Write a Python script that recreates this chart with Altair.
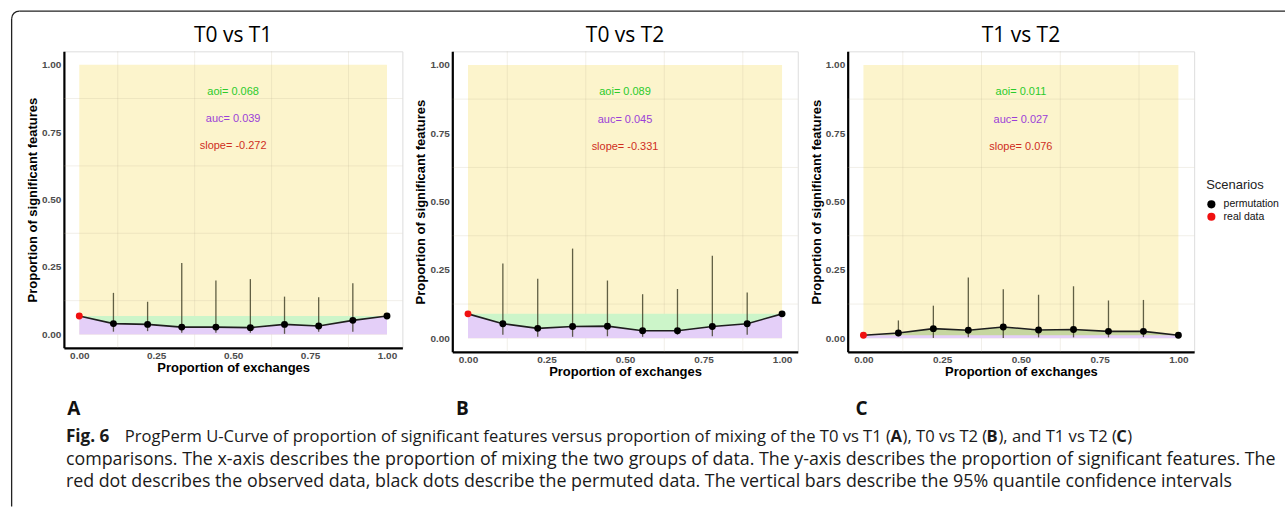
import altair as alt
import pandas as pd

# ---------------- data ----------------
titles = ["T0 vs T1", "T0 vs T2", "T1 vs T2"]
x_vals = [0.0, 0.111, 0.222, 0.333, 0.444, 0.556, 0.667, 0.778, 0.889, 1.0]
scenario = ["real data"] + ["permutation"] * 9

y_A = [0.068, 0.040, 0.037, 0.027, 0.027, 0.025, 0.037, 0.031, 0.052, 0.068]
y_B = [0.089, 0.053, 0.036, 0.043, 0.044, 0.027, 0.027, 0.043, 0.053, 0.089]
y_C = [0.011, 0.019, 0.035, 0.029, 0.041, 0.030, 0.032, 0.025, 0.025, 0.011]

hi_A = [0.154, 0.121, 0.265, 0.200, 0.205, 0.140, 0.138, 0.190]
lo_A = [0.010, 0.012, 0.006, 0.006, 0.006, 0.002, 0.010, 0.010]
hi_B = [0.273, 0.218, 0.328, 0.211, 0.161, 0.180, 0.302, 0.167]
lo_B = [0.013, 0.005, 0.005, 0.007, 0.005, 0.013, 0.007, 0.013]
hi_C = [0.065, 0.119, 0.222, 0.179, 0.159, 0.190, 0.138, 0.140]
lo_C = [0.007, 0.001, 0.003, 0.001, 0.003, 0.003, 0.003, 0.004]

aoi_txt = ["aoi= 0.068", "aoi= 0.089", "aoi= 0.011"]
auc_txt = ["auc= 0.039", "auc= 0.045", "auc= 0.027"]
slope_txt = ["slope= -0.272", "slope= -0.331", "slope= 0.076"]

tick_vals = [0, 0.25, 0.5, 0.75, 1.0]
minor_breaks = [0.125, 0.375, 0.625, 0.875]

panel_letters = ["A", "B", "C"]
caption_l1 = [("Fig. 6", "bold"),
              ("ProgPerm U-Curve of proportion of significant features versus proportion of mixing of the T0 vs T1 (", "normal"),
              ("A", "bold"), ("), T0 vs T2 (", "normal"), ("B", "bold"),
              ("), and T1 vs T2 (", "normal"), ("C", "bold"), (")", "normal")]
caption_l2 = "comparisons. The x-axis describes the proportion of mixing the two groups of data. The y-axis describes the proportion of significant features. The"
caption_l3 = "red dot describes the observed data, black dots describe the permuted data. The vertical bars describe the 95% quantile confidence intervals"

ys = [y_A, y_B, y_C]
his = [hi_A, hi_B, hi_C]
los = [lo_A, lo_B, lo_C]

# ---------------- style ----------------
YELLOW = "#FCF4CC"
PURPLE = "#E4CFF8"
RIBBON = ["#CCF5C9", "#CCF5C9", "#C6D69F"]
AXFONT = "Liberation Sans"
CAPFONT = "Open Sans"
CAPSIZE = 17.85
CAPSIZE1 = 16.6

OX, OY = 63, 50  # absolute position of panel A plot origin


def ax(v):
    return v - OX


def ay(v):
    return v - OY


xscale = alt.Scale(domain=[-0.05, 1.05], nice=False, zero=False)
yscale = alt.Scale(domain=[-0.05, 1.05], nice=False, zero=False)
xaxis = alt.Axis(values=tick_vals, format=".2f", title="Proportion of exchanges", grid=False,
                 ticks=False, domainColor="black", domainWidth=2.2, labelFont=AXFONT,
                 labelFontWeight="bold", labelFontSize=10, labelColor="#4D4D4D", labelPadding=3,
                 labelFlush=False, titleFont=AXFONT, titleFontSize=13, titleFontWeight="bold",
                 titleColor="black", titlePadding=1)
yaxis = alt.Axis(values=tick_vals, format=".2f", title="Proportion of significant features",
                 grid=False, ticks=False, domainColor="black", domainWidth=2.2, labelFont=AXFONT,
                 labelFontWeight="bold", labelFontSize=10, labelColor="#4D4D4D", labelPadding=3,
                 labelFlush=False, titleFont=AXFONT, titleFontSize=13, titleFontWeight="bold",
                 titleColor="black", titlePadding=2)


def X(f):
    return alt.X(f, type="quantitative", scale=xscale, axis=xaxis)


def Y(f):
    return alt.Y(f, type="quantitative", scale=yscale, axis=yaxis)


legend = alt.Legend(title="Scenarios", orient="none", legendX=ax(1207), legendY=ay(178),
                    titleFont=AXFONT, titleFontSize=13, titleFontWeight="normal",
                    titleColor="#222", titlePadding=7, labelFont=AXFONT, labelFontSize=10.5,
                    labelColor="#111", labelFontWeight="normal", symbolType="circle",
                    symbolSize=66, symbolStrokeWidth=0, rowPadding=1.5, labelOffset=7)
color_enc = alt.Color("Scenarios:N",
                      scale=alt.Scale(domain=["permutation", "real data"], range=["#000000", "#F01010"]),
                      legend=legend)

one = pd.DataFrame({"k": [0]})


def txt(s, x, y, size, weight="normal", font=CAPFONT, align="left", color="#1a1a1a"):
    return alt.Chart(pd.DataFrame({"t": [s]})).mark_text(
        font=font, fontSize=size, fontWeight=weight, align=align, baseline="middle", color=color
    ).encode(x=alt.value(x), y=alt.value(y), text="t:N")


def panel(i, w, h, extra=()):
    pts = pd.DataFrame({"x": x_vals, "y": ys[i], "Scenarios": scenario})
    err = pd.DataFrame({"x": x_vals[1:9], "lo": los[i], "hi": his[i]})
    rect = pd.DataFrame({"x0": [0.0], "x1": [1.0], "y0": [0.0], "y1": [1.0]})
    grid = pd.DataFrame({"b": minor_breaks})
    real = ys[i][0]

    bg = alt.Chart(rect).mark_rect(color=YELLOW).encode(x=X("x0"), x2="x1", y=Y("y0"), y2="y1")
    gx = alt.Chart(grid).mark_rule(color="#B8B090", opacity=0.25, strokeWidth=0.8).encode(x=X("b"))
    gy = alt.Chart(grid).mark_rule(color="#B8B090", opacity=0.25, strokeWidth=0.8).encode(y=Y("b"))
    under = alt.Chart(pts).mark_area(color=PURPLE, opacity=1).encode(x=X("x"), y=Y("y"), y2=alt.datum(0))
    ribbon = alt.Chart(pts).mark_area(color=RIBBON[i], opacity=1).encode(x=X("x"), y=Y("y"), y2=alt.datum(real))
    bars = alt.Chart(err).mark_rule(color="#3a3a22", opacity=0.8, strokeWidth=1.3).encode(
        x=X("x"), y=Y("lo"), y2="hi")
    line = alt.Chart(pts).mark_line(color="#1e1e1e", strokeWidth=1.6).encode(x=X("x"), y=Y("y"))
    dots = alt.Chart(pts).mark_circle(size=48, opacity=1).encode(x=X("x"), y=Y("y"), color=color_enc)
    anns = []
    for s, yy, c in [(aoi_txt[i], 0.9, "#2BCB2B"), (auc_txt[i], 0.8, "#9B3FD8"), (slope_txt[i], 0.7, "#CF2E1E")]:
        anns.append(alt.Chart(pd.DataFrame({"t": [s]})).mark_text(
            font=AXFONT, fontSize=11, color=c, baseline="middle", align="center"
        ).encode(x=alt.datum(0.5), y=alt.datum(yy), text="t:N"))
    ttl = alt.Chart(pd.DataFrame({"t": [titles[i]]})).mark_text(
        font="Open Sans", fontSize=21, color="black", baseline="middle", align="center"
    ).encode(x=alt.datum(0.5), y=alt.value(-15), text="t:N")

    layers = [bg, gx, gy, under, ribbon, bars, line, dots] + anns + [ttl] + list(extra)
    return alt.layer(*layers).properties(width=w, height=h)


# decorations (frame, panel letters, caption) placed in absolute page pixels
frame = [
    alt.Chart(one).mark_rule(color="#222", strokeWidth=1.3).encode(
        x=alt.value(ax(10.65)), y=alt.value(ay(17.4)), y2=alt.value(ay(506))),
    alt.Chart(one).mark_rule(color="#222", strokeWidth=1.3).encode(
        x=alt.value(ax(18.4)), x2=alt.value(ax(1286)), y=alt.value(ay(9.65))),
    alt.Chart(one).mark_arc(color="#222", theta=4.7124, theta2=6.2832, radius=8.4, radius2=7.1).encode(
        x=alt.value(ax(18.4)), y=alt.value(ay(17.4))),
]
letters = [txt(l, ax(px), ay(408), 19, weight="bold", align="center", color="#111")
           for l, px in zip(panel_letters, [73, 462, 862])]
l1_pos = [65, 124, 891, 903, 987, 999, 1117, 1128]
cap = [txt(s, ax(px), ay(436), CAPSIZE1 if k else 17.2, weight=wt)
       for k, ((s, wt), px) in enumerate(zip(caption_l1, l1_pos))]
cap.append(txt(caption_l2, ax(65), ay(459), CAPSIZE))
cap.append(txt(caption_l3, ax(65), ay(481), CAPSIZE))

pA = panel(0, 339, 297, extra=frame + letters + cap)
pB = panel(1, 346, 301)
pC = panel(2, 347, 301)

chart = alt.hconcat(pA, pB, pC, spacing=50, bounds="flush").properties(
    padding={"left": 10, "top": 9, "right": 0, "bottom": 0}
).configure_view(stroke=None).configure(background="white")

chart.save("out.html", embed_options={"renderer": "svg", "actions": False})
